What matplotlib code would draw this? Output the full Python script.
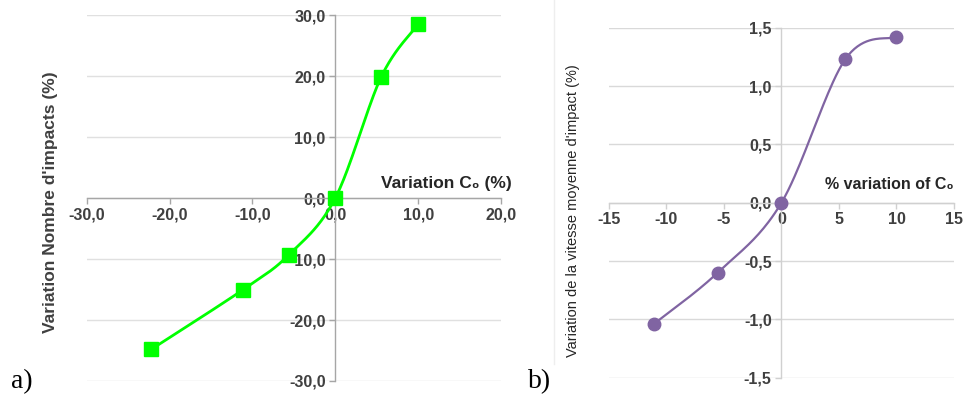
import numpy as np
import matplotlib.pyplot as plt
from matplotlib.ticker import FuncFormatter
from matplotlib.lines import Line2D

# data
xa = [-22.2, -11.1, -5.6, 0.0, 5.55, 10.0]
ya = [-24.8, -15.0, -9.3, 0.0, 19.9, 28.5]
xb = [-11.1, -5.55, 0.0, 5.55, 10.0]
yb = [-1.04, -0.60, 0.0, 1.23, 1.42]

xticks_a = [-30, -20, -10, 0, 10, 20]
yticks_a = [-30, -20, -10, 0, 10, 20, 30]
xticks_b = [-15, -10, -5, 0, 5, 10, 15]
yticks_b = [-1.5, -1.0, -0.5, 0.0, 0.5, 1.0, 1.5]

plt.rcParams['font.family'] = ['Liberation Sans', 'DejaVu Sans']


def smooth(x, y, n=40):
    # excel-like smoothed line (cubic bezier, catmull-rom controls)
    x = np.asarray(x, float); y = np.asarray(y, float)
    p = np.column_stack([x, y])
    pts = [p[0]]
    t = np.linspace(0, 1, n)[1:, None]
    for i in range(len(p) - 1):
        p0 = p[max(i - 1, 0)]; p1 = p[i]; p2 = p[i + 1]; p3 = p[min(i + 2, len(p) - 1)]
        c1 = p1 + (p2 - p0) / 6
        c2 = p2 - (p3 - p1) / 6
        seg = (1-t)**3*p1 + 3*(1-t)**2*t*c1 + 3*(1-t)*t**2*c2 + t**3*p2
        pts.extend(seg)
    pts = np.array(pts)
    return pts[:, 0], pts[:, 1]


def style(ax, axcol, gridcol, size):
    ax.spines['left'].set_position('zero')
    ax.spines['bottom'].set_position('zero')
    ax.spines['top'].set_visible(False)
    ax.spines['right'].set_visible(False)
    ax.spines['left'].set_color(axcol)
    ax.spines['bottom'].set_color(axcol)
    ax.spines['left'].set_linewidth(1.0)
    ax.spines['bottom'].set_linewidth(1.0)
    ax.yaxis.grid(True, color=gridcol, linewidth=1.0)
    ax.set_axisbelow(True)
    ax.tick_params(axis='both', colors=axcol, length=4, width=1.0,
                   labelcolor='#404040', labelsize=size, pad=3)
    for lab in ax.get_xticklabels() + ax.get_yticklabels():
        lab.set_fontweight('bold')


fig = plt.figure(figsize=(9.64, 3.96), dpi=100)

# panel a
ax1 = fig.add_axes([0.0899, 0.0379, 0.4298, 0.9235])
sx, sy = smooth(xa, ya)
ax1.plot(sx, sy, color='#00FF00', linewidth=2.0, zorder=3)
ax1.plot(xa, ya, linestyle='none', marker='s', markersize=9.5, color='#00FF00', zorder=4)
ax1.set_xlim(-30, 20)
ax1.set_ylim(-30, 30)
ax1.set_xticks(xticks_a)
ax1.set_yticks(yticks_a)
fmt1 = FuncFormatter(lambda v, p: ('%.1f' % v).replace('.', ','))
ax1.xaxis.set_major_formatter(fmt1)
ax1.yaxis.set_major_formatter(fmt1)
style(ax1, '#A6A6A6', '#E0E0E0', 11.5)
ax1.text(21.3, 1.2, 'Variation C\u2080 (%)', ha='right', va='bottom',
         fontsize=12.5, fontweight='bold', color='#262626', clip_on=False)
fig.text(0.052, 0.49, "Variation Nombre d'impacts (%)", rotation=90, ha='center', va='center',
         fontsize=12.5, fontweight='bold', color='#404040')
fig.text(0.011, 0.02, 'a)', fontsize=20, family='Liberation Serif', ha='left', va='baseline')

# panel b
ax2 = fig.add_axes([0.6317, 0.0462, 0.3579, 0.8838])
sx, sy = smooth(xb, yb)
ax2.plot(sx, sy, color='#8064A2', linewidth=1.6, zorder=3)
ax2.plot(xb, yb, linestyle='none', marker='o', markersize=9, color='#8064A2', zorder=4)
ax2.set_xlim(-15, 15)
ax2.set_ylim(-1.5, 1.5)
ax2.set_xticks(xticks_b)
ax2.set_yticks(yticks_b)
ax2.xaxis.set_major_formatter(FuncFormatter(lambda v, p: '%d' % v))
ax2.yaxis.set_major_formatter(FuncFormatter(lambda v, p: ('%.1f' % v).replace('.', ',')))
style(ax2, '#D0D0D0', '#D9D9D9', 11.5)
ax2.text(15.0, 0.09, '% variation of C\u2080', ha='right', va='bottom',
         fontsize=11.5, fontweight='bold', color='#262626')
fig.text(0.594, 0.467, "Variation de la vitesse moyenne d'impact (%)", rotation=90,
         ha='center', va='center', fontsize=10.5, color='#262626')
fig.text(0.548, 0.02, 'b)', fontsize=20, family='Liberation Serif', ha='left', va='baseline')
fig.add_artist(Line2D([0.5747, 0.5747], [0.08, 1.0], color='#EEEEEE', linewidth=1.0,
                      transform=fig.transFigure))

fig.savefig('out.png', dpi=100)
